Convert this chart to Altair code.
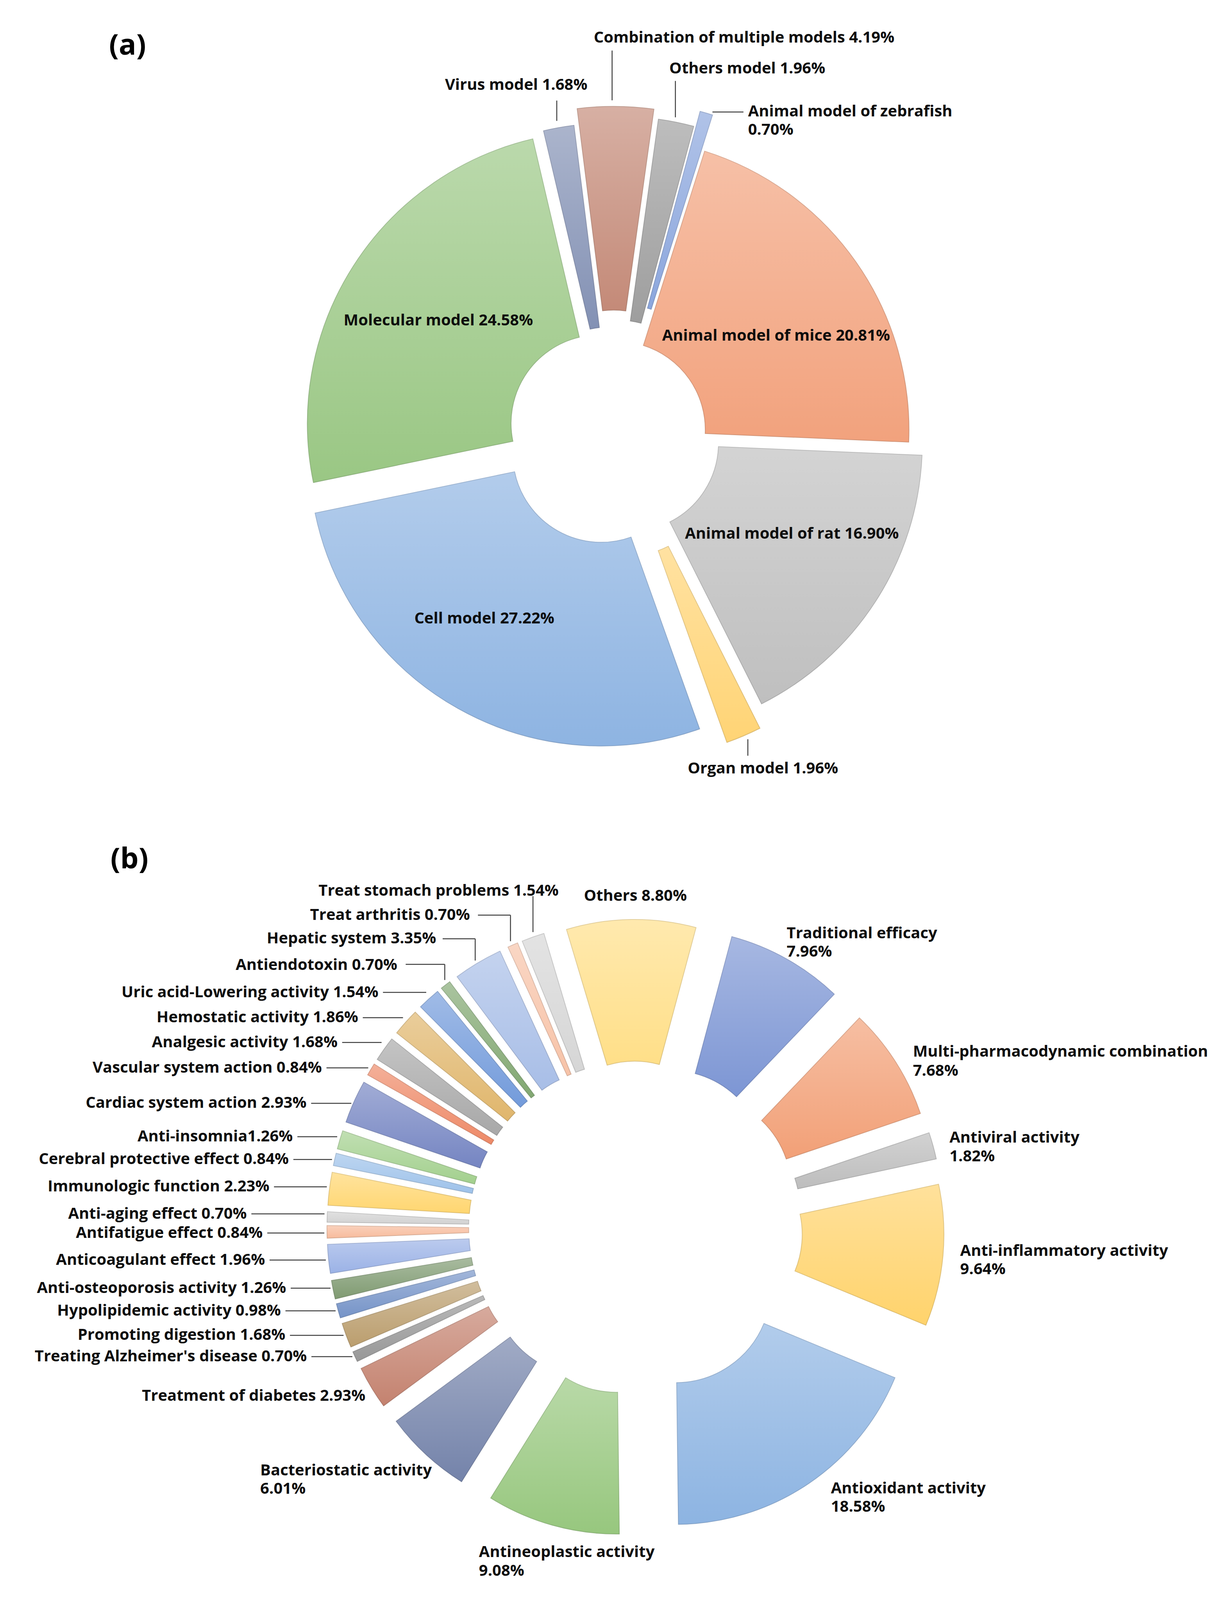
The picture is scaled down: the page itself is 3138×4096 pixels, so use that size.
import math
import pandas as pd
import altair as alt

# ------------------------------------------------------------------ data
A_NAMES = ["Animal model of mice", "Animal model of rat", "Organ model", "Cell model",
           "Molecular model", "Virus model", "Combination of multiple models",
           "Others model", "Animal model of zebrafish"]
A_VALUES = [20.81, 16.90, 1.96, 27.22, 24.58, 1.68, 4.19, 1.96, 0.70]

B_NAMES = ["Antineoplastic activity", "Bacteriostatic activity", "Treatment of diabetes",
           "Treating Alzheimer's disease", "Promoting digestion", "Hypolipidemic activity",
           "Anti-osteoporosis activity", "Anticoagulant effect", "Antifatigue effect",
           "Anti-aging effect", "Immunologic function", "Cerebral protective effect",
           "Anti-insomnia", "Cardiac system action", "Vascular system action",
           "Analgesic activity", "Hemostatic activity", "Uric acid-Lowering activity",
           "Antiendotoxin", "Hepatic system", "Treat arthritis", "Treat stomach problems",
           "Others", "Traditional efficacy", "Multi-pharmacodynamic combination",
           "Antiviral activity", "Anti-inflammatory activity", "Antioxidant activity"]
B_VALUES = [9.08, 6.01, 2.93, 0.70, 1.68, 0.98, 1.26, 1.96, 0.84, 0.70, 2.23, 0.84,
            1.26, 2.93, 0.84, 1.68, 1.86, 1.54, 0.70, 3.35, 0.70, 1.54,
            8.80, 7.96, 7.68, 1.82, 9.64, 18.58]

PANEL_TITLES = ["(a)", "(b)"]

# ------------------------------------------------------------------ style
A_COLORS = ["#F2A27D", "#BFBFBF", "#FFD475", "#8EB4E2", "#9AC784", "#8391B4",
            "#C48A78", "#9E9E9E", "#8BA6DD"]
B_COLORS = ["#97C77E", "#7483AA", "#C4826F", "#989898", "#BB9E6E", "#7694C8",
            "#809B72", "#9BB2E6", "#F7BB9C", "#D2D2D2", "#FFD670", "#9EC2EA",
            "#A3D08E", "#7585C2", "#EE8A68", "#A8A8A8", "#E0B66C", "#739BDB",
            "#82A872", "#A8BEE7", "#F7C3A8", "#D6D6D6", "#FFDF88", "#7D96D4",
            "#F2A077", "#BDBDBD", "#FFD36C", "#8DB4E2"]

S = 0.98                      # drawing scale relative to the reference
W, H = 3120, 4078             # plot area (page minus 8px margins)
FONT = "Open Sans"
FS = 40
TITLE_FS = 74

A_EXPLODE = [11, 52, 100, 65, 43, 45, 88, 63, 105]
B_EXPLODE = 186
A_START_DEG = 17.5
B_START_DEG = 179.3
A_CENTER = (1602, 1129)
B_CENTER = (1660, 3208)
A_RADII = (763, 231)
B_RADII = (620, 250)
TITLE_POS = [(333, 120), (338, 2246)]

LAYOUT_A = {
    "Animal model of mice": {"kind": "inside", "nudge": (9, 40)},
    "Animal model of rat": {"kind": "inside", "nudge": (5, -32)},
    "Organ model": {"segs": [((11, 9), (11, 52))], "text": (-146, 86, "left")},
    "Cell model": {"kind": "inside", "nudge": (-62, -3)},
    "Molecular model": {"kind": "inside", "nudge": (-2, -1)},
    "Virus model": {"segs": [((-5, -18), (-5, -71))], "text": (75, -111, "right")},
    "Combination of multiple models": {"segs": [((-9, -16), (-9, -146))], "text": (-57, -179, "left")},
    "Others model": {"segs": [((-2, -13), (-2, -108))], "text": (-18, -140, "left")},
    "Animal model of zebrafish": {"segs": [((16, -3), (97, -3))], "text": (109, -4, "left"),
                                  "lines": 2, "gap": 48},
}

LAYOUT_B = {
    "Antineoplastic activity": {"text": (-192, 71, "left"), "lines": 2, "gap": 48.6},
    "Bacteriostatic activity": {"text": (-433, 42, "left"), "lines": 2, "gap": 48},
    "Treatment of diabetes": {"text": (-16, 22, "right")},
    "Treating Alzheimer's disease": {"reach": 126, "dy": 0},
    "Promoting digestion": {"reach": 159, "dy": 0},
    "Hypolipidemic activity": {"reach": 150, "dy": 0},
    "Anti-osteoporosis activity": {"reach": 123, "dy": -4},
    "Anticoagulant effect": {"reach": 166, "dy": 3},
    "Antifatigue effect": {"reach": 168, "dy": 3},
    "Anti-aging effect": {"reach": 210, "dy": -8},
    "Immunologic function": {"reach": 157, "dy": -5},
    "Cerebral protective effect": {"reach": 120, "dy": 0},
    "Anti-insomnia": {"reach": 123, "dy": -8, "sep": ""},
    "Cardiac system action": {"reach": 124, "dy": 4},
    "Vascular system action": {"reach": 128, "dy": -4},
    "Analgesic activity": {"reach": 122, "dy": -17},
    "Hemostatic activity": {"reach": 124, "dy": -12},
    "Uric acid-Lowering activity": {"reach": 132, "dy": -17},
    "Antiendotoxin": {"segs": [((-2, -13), (-2, -54)), ((-2, -54), (-104, -54))],
                      "text": (-126, -52, "right")},
    "Hepatic system": {"segs": [((-7, -6), (-7, -63)), ((-7, -63), (-92, -63))],
                       "text": (-109, -63, "right")},
    "Treat arthritis": {"segs": [((-6, -10), (-6, -78)), ((-6, -78), (-91, -78))],
                        "text": (-112, -78, "right")},
    "Treat stomach problems": {"segs": [((0, -13), (0, -107))], "text": (67, -120, "right")},
    "Others": {"text": (11, -61, "center")},
    "Traditional efficacy": {"text": (0, -66.5, "left"), "lines": 2, "gap": 48},
    "Multi-pharmacodynamic combination": {"text": (45, -26, "left"), "lines": 2, "gap": 49.7},
    "Antiviral activity": {"text": (43, -21, "left"), "lines": 2, "gap": 49.5},
    "Anti-inflammatory activity": {"text": (45, -12, "left"), "lines": 2, "gap": 48},
    "Antioxidant activity": {"text": (58, 13, "left"), "lines": 2, "gap": 48},
}


def darker(hexc, f=0.82):
    h = hexc.lstrip("#")
    rgb = [int(h[i:i + 2], 16) for i in (0, 2, 4)]
    return "#" + "".join(f"{int(c * f):02x}" for c in rgb)


def build(names, values, explode, start_deg, center, radii, layout):
    R, r = radii
    total = sum(values)
    arcs, texts, segs = [], [], []
    acc = 0.0
    for i, (n, v) in enumerate(zip(names, values)):
        e = explode[i] if isinstance(explode, (list, tuple)) else explode
        c0, c1 = acc, acc + v
        acc = c1
        mid = math.radians(start_deg) + 2 * math.pi * ((c0 + c1) / 2) / total
        ux, uy = math.sin(mid), -math.cos(mid)
        cx, cy = center[0] + e * ux, center[1] + e * uy
        arcs.append(dict(name=n, c0=c0, c1=c1, cx=cx, cy=cy))
        L = layout[n]
        sep = L.get("sep", " ")
        if L.get("kind") == "inside":
            m = (R + r) / 2
            texts.append(dict(text=f"{n}{sep}{v:.2f}%", x=cx + m * ux + L["nudge"][0],
                              y=cy + m * uy + L["nudge"][1], align="center"))
            continue
        px, py = cx + R * ux, cy + R * uy
        if "reach" in L:
            dy = L["dy"]
            seg_list = [((-7, dy), (-L["reach"] + 12, dy))]
            tx, ty, al = -L["reach"], dy, "right"
        else:
            seg_list = L.get("segs", [])
            tx, ty, al = L["text"]
        for a, b in seg_list:
            segs.append(dict(x=px + a[0], y=py + a[1], x2=px + b[0], y2=py + b[1]))
        if L.get("lines", 1) == 2:
            texts.append(dict(text=n, x=px + tx, y=py + ty, align=al))
            texts.append(dict(text=f"{v:.2f}%", x=px + tx, y=py + ty + L["gap"], align=al))
        else:
            texts.append(dict(text=f"{n}{sep}{v:.2f}%", x=px + tx, y=py + ty, align=al))
    return pd.DataFrame(arcs), total, texts, segs


arcs_a, total_a, texts_a, segs_a = build(A_NAMES, A_VALUES, A_EXPLODE, A_START_DEG,
                                         A_CENTER, A_RADII, LAYOUT_A)
arcs_b, total_b, texts_b, segs_b = build(B_NAMES, B_VALUES, B_EXPLODE, B_START_DEG,
                                         B_CENTER, B_RADII, LAYOUT_B)
texts = pd.DataFrame(texts_a + texts_b)
segs = pd.DataFrame(segs_a + segs_b)
titles = pd.DataFrame({"text": PANEL_TITLES,
                       "x": [p[0] for p in TITLE_POS], "y": [p[1] for p in TITLE_POS]})

xs = alt.Scale(domain=[8 / S, (8 + W) / S], range=[0, W], nice=False, zero=False)
ys = alt.Scale(domain=[8 / S, (8 + H) / S], range=[0, H], nice=False, zero=False)
fill_scale = alt.Scale(domain=A_NAMES + B_NAMES, range=A_COLORS + B_COLORS)
stroke_scale = alt.Scale(domain=A_NAMES + B_NAMES,
                         range=[darker(c) for c in A_COLORS + B_COLORS])

SHADE = alt.LinearGradient(
    gradient="linear", x1=0, y1=0, x2=0, y2=1,
    stops=[alt.GradientStop(color="rgba(255,255,255,0.32)", offset=0),
           alt.GradientStop(color="rgba(255,255,255,0)", offset=1)])


def arc_layers(df, total, start_deg, radii):
    R, r = radii
    t0 = math.radians(start_deg)
    th = alt.Scale(domain=[0, total], range=[t0, t0 + 2 * math.pi])
    enc = dict(x=alt.X("cx:Q", scale=xs, axis=None),
               y=alt.Y("cy:Q", scale=ys, axis=None),
               theta=alt.Theta("c0:Q", scale=th, stack=False),
               theta2=alt.Theta2("c1"))
    base = alt.Chart(df).mark_arc(radius=R * S, radius2=r * S, strokeWidth=2,
                                  strokeOpacity=0.75).encode(
        fill=alt.Fill("name:N", scale=fill_scale, legend=None),
        stroke=alt.Stroke("name:N", scale=stroke_scale, legend=None), **enc)
    shade = alt.Chart(df).mark_arc(radius=R * S, radius2=r * S, fill=SHADE,
                                   strokeWidth=0).encode(**enc)
    return [base, shade]


rules = alt.Chart(segs).mark_rule(color="#404040", strokeWidth=2.5).encode(
    x=alt.X("x:Q", scale=xs, axis=None), y=alt.Y("y:Q", scale=ys, axis=None),
    x2="x2:Q", y2="y2:Q")


def text_layer(al):
    return alt.Chart(texts[texts["align"] == al]).mark_text(
        align=al, baseline="middle", font=FONT, fontSize=FS, fontWeight="bold",
        color="#0d0d0d").encode(
        x=alt.X("x:Q", scale=xs, axis=None), y=alt.Y("y:Q", scale=ys, axis=None),
        text="text:N")


title_layer = alt.Chart(titles).mark_text(
    align="center", baseline="middle", font=FONT, fontSize=TITLE_FS, fontWeight="bold",
    color="#000000").encode(
    x=alt.X("x:Q", scale=xs, axis=None), y=alt.Y("y:Q", scale=ys, axis=None), text="text:N")

layers = (arc_layers(arcs_a, total_a, A_START_DEG, A_RADII)
          + arc_layers(arcs_b, total_b, B_START_DEG, B_RADII)
          + [rules, text_layer("left"), text_layer("right"), text_layer("center"), title_layer])

chart = alt.layer(*layers).resolve_scale(theta="independent").properties(
    width=W, height=H, padding=0, autosize=alt.AutoSizeParams(type="none")
).configure_view(stroke=None)

chart.save("out.html", embed_options={"renderer": "svg", "actions": False})
